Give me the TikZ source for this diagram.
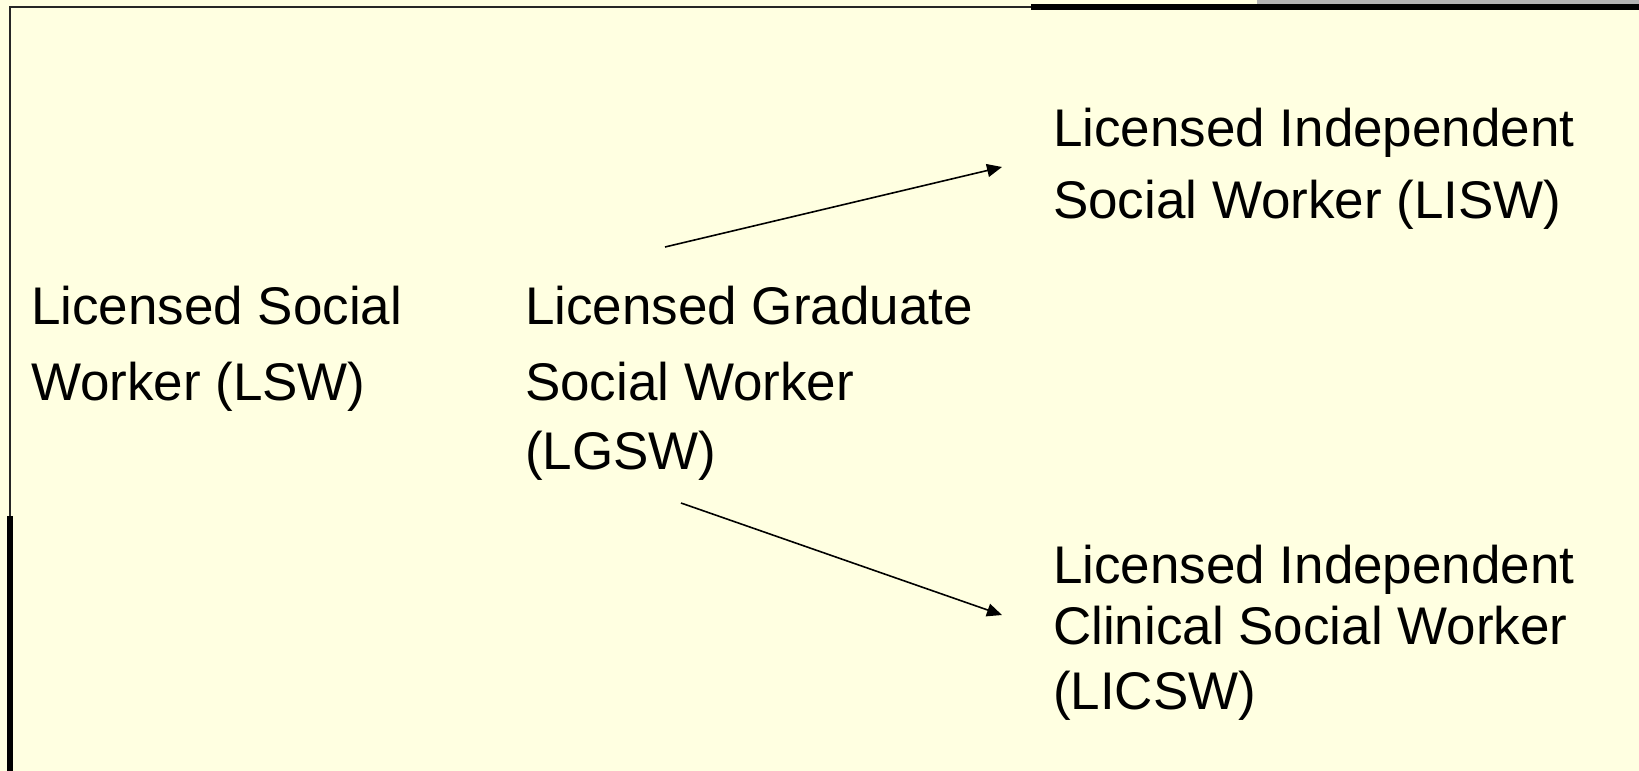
\documentclass[tikz,border=0pt]{standalone}
\usepackage{fontspec}
\setmainfont{Liberation Sans}
\usetikzlibrary{arrows.meta}
\definecolor{bgyellow}{HTML}{FFFFE1}
\definecolor{edgegray}{HTML}{B3B3B3}
\begin{document}
\begin{tikzpicture}[x=1pt,y=-1pt,
  lbl/.style={anchor=base west,inner sep=0pt,outer sep=0pt,font=\fontsize{53}{60}\selectfont,text=black},
  conn/.style={line width=1.6pt,-{Triangle[length=15pt,width=13pt]}}]
\useasboundingbox (0,0) rectangle (1639,771);
\fill[bgyellow] (0,0) rectangle (1639,771);
\fill[edgegray] (1257,0) rectangle (1639,4);
% frame lines
\fill[black!85] (9,6) rectangle (1031,8);
\fill[black] (1031,4) rectangle (1639,10);
\fill[black!85] (9,6) rectangle (11,516);
\fill[black] (7,516) rectangle (13,771);
% texts
\node[lbl] (lswA) at (31,324) {Licensed Social};
\node[lbl] (lswB) at (31,400.7) {Worker (LSW)};
\node[lbl] (lgswA) at (525,324) {Licensed Graduate};
\node[lbl] (lgswB) at (525,400.7) {Social Worker};
\node[lbl] (lgswC) at (525,469.5) {(LGSW)};
\node[lbl] (liswA) at (1053,146.5) {Licensed Independent};
\node[lbl] (liswB) at (1053,218) {Social Worker (LISW)};
\node[lbl] (licswA) at (1053,583.3) {Licensed Independent};
\node[lbl] (licswB) at (1053,644.5) {Clinical Social Worker};
\node[lbl] (licswC) at (1053,709) {(LICSW)};
% connectors
\coordinate (upS) at (665,247);
\coordinate (upE) at (1002,167);
\coordinate (dnS) at (681,503);
\coordinate (dnE) at (1002,615);
\draw[conn] (upS) -- (upE);
\draw[conn] (dnS) -- (dnE);
\end{tikzpicture}
\end{document}
